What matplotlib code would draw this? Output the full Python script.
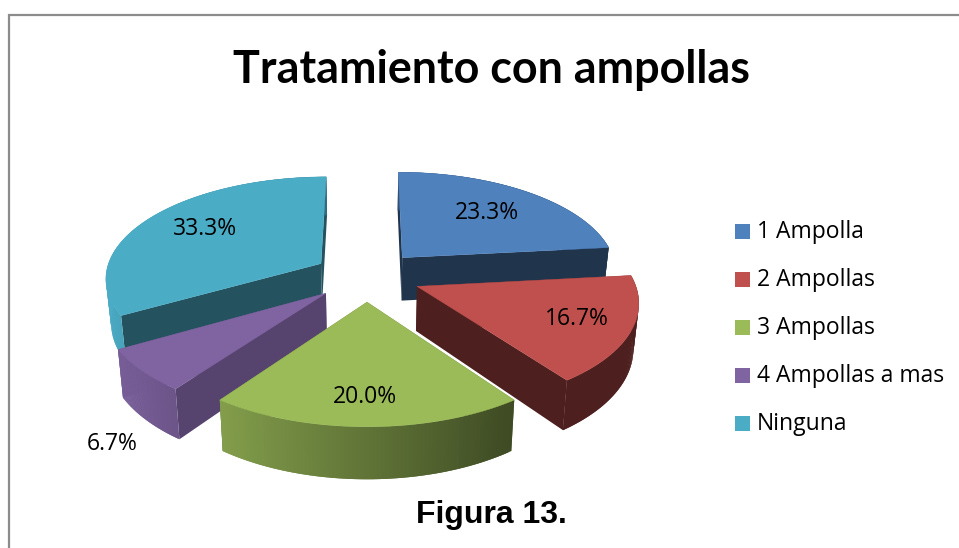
import numpy as np
import matplotlib
matplotlib.use('Agg')
import matplotlib.pyplot as plt
from matplotlib.colors import to_rgb
from matplotlib.patches import Polygon, Rectangle

categories = ['1 Ampolla', '2 Ampollas', '3 Ampollas', '4 Ampollas a mas', 'Ninguna']
values = [23.3, 16.7, 20.0, 6.7, 33.3]
colors = ['#4F81BD', '#C0504D', '#9BBB59', '#8064A2', '#4BACC6']

# pixel layout of the 3D pie
CX, CY = 367, 276
RX, RY = 216, 101
PERSP = 0.13
EXPLODE = 0.25
DEPTH = 44
BOTTOM_SHRINK = 0.98

# how dark the cut faces are, per slice
cut_shade = [0.40, 0.40, 0.50, 0.68, 0.48]
# back to front
draw_order = [0, 4, 1, 3, 2]
label_xy = [(487, 213), (577, 319), (365, 397), (112, 444), (205, 229)]


def project(u, v, bottom=False):
    f = 1 / (1 - PERSP * v)
    if bottom:
        return CX + RX * u * f * BOTTOM_SHRINK, CY + RY * v * f + DEPTH * f
    return CX + RX * u * f, CY + RY * v * f


def rim_shade(theta):
    return np.clip(0.62 - 0.38 * np.sin(theta), 0.40, 1.0)


def shade(col, k):
    return tuple(c * k for c in to_rgb(col))


fig = plt.figure(figsize=(9.59, 5.48), dpi=100)
ax = fig.add_axes([0, 0, 1, 1])
ax.set_xlim(0, 959)
ax.set_ylim(548, 0)
ax.axis('off')

# chart frame, open on the right and at the bottom
ax.plot([9, 9, 959], [548, 15, 15], color='#8C8C8C', lw=1.6, solid_joinstyle='miter')

fractions = np.array(values) / sum(values)
edges = np.concatenate([[0], np.cumsum(fractions)]) * 2 * np.pi

for i in draw_order:
    col = colors[i]
    t0, t1 = edges[i], edges[i + 1]
    mid = (t0 + t1) / 2
    ou, ov = EXPLODE * np.sin(mid), -EXPLODE * np.cos(mid)
    thetas = np.linspace(t0, t1, 80)
    us = ou + np.sin(thetas)
    vs = ov - np.cos(thetas)

    # cut faces
    for k in [0, -1]:
        quad = [project(ou, ov), project(us[k], vs[k]),
                project(us[k], vs[k], True), project(ou, ov, True)]
        fc = shade(col, cut_shade[i])
        ax.add_patch(Polygon(quad, closed=True, fc=fc, ec='none'))

    # outer rim, strips overlap the next one so no seams show
    for j in range(len(thetas) - 1):
        n = min(j + 2, len(thetas) - 1)
        quad = [project(us[j], vs[j]), project(us[n], vs[n]),
                project(us[n], vs[n], True), project(us[j], vs[j], True)]
        fc = shade(col, rim_shade((thetas[j] + thetas[j + 1]) / 2))
        ax.add_patch(Polygon(quad, closed=True, fc=fc, ec='none'))

    # top face
    top = [project(ou, ov)] + [project(u, v) for u, v in zip(us, vs)]
    ax.add_patch(Polygon(top, closed=True, fc=col, ec=col, lw=0.3))

for val, (x, y) in zip(values, label_xy):
    ax.text(x, y, '%.1f%%' % val, ha='center', va='center', fontsize=16.5,
            family='Open Sans', color='black')

# legend
for i, name in enumerate(categories):
    y = 231 + i * 48
    ax.add_patch(Rectangle((735, y - 7.5), 15, 15, fc=colors[i], ec='none'))
    ax.text(757, y + 1, name, ha='left', va='center', fontsize=16.5, family='Open Sans', color='black')

ax.text(491, 70, 'Tratamiento con ampollas', ha='center', va='center', fontsize=32.3,
        family='Lato', fontweight='bold', color='black')
ax.text(491, 515, 'Figura 13.', ha='center', va='center', fontsize=23,
        family='Liberation Sans', fontweight='bold', color='black')

fig.savefig('out.png', dpi=100)
